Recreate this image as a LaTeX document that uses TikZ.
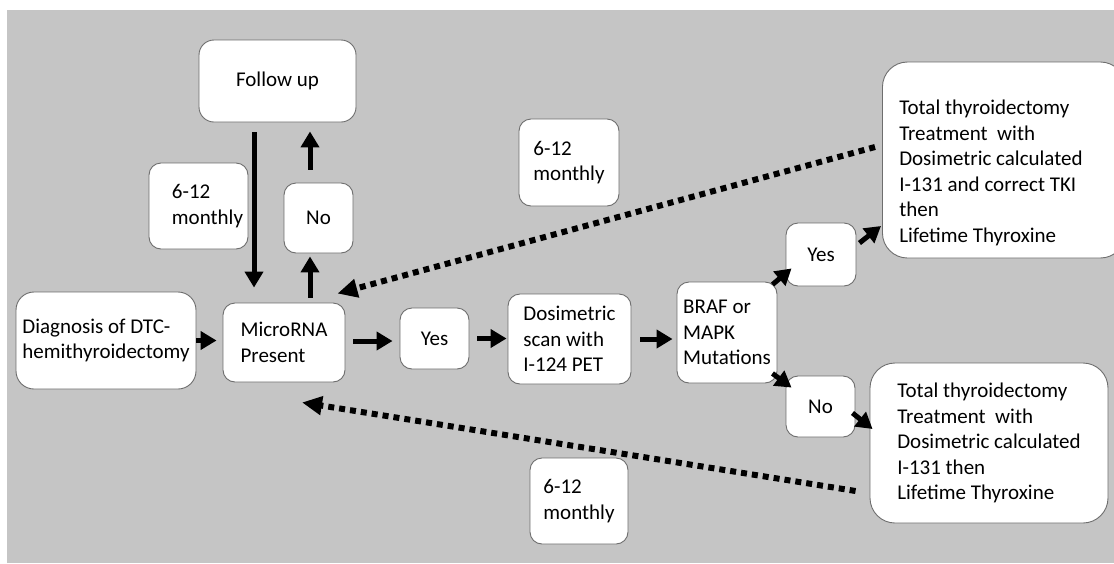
\documentclass[tikz,border=0pt]{standalone}
\usepackage{fontspec}
\setmainfont{Carlito}
\usetikzlibrary{arrows.meta,calc}
\definecolor{bggray}{HTML}{C5C5C5}
\definecolor{edgegray}{HTML}{6E6E6E}
\begin{document}
\begin{tikzpicture}[x=1pt,y=-1pt,
  box/.style={draw=edgegray, line width=0.9pt, fill=white, rounded corners=12pt,
    align=left, inner sep=0pt, font=\fontsize{21}{25.5}\selectfont},
  bigbox/.style={box, rounded corners=25pt},
  arr/.style={line width=5pt, -{Triangle[length=16pt,width=18pt]}},
  darr/.style={line width=6pt, dash pattern=on 6pt off 5pt, -{Triangle[length=20pt,width=18pt]}}]
\useasboundingbox (0,0) rectangle (1114,563);
\clip (0,0) rectangle (1114,563);
\fill[white] (0,0) rectangle (1114,563);
\fill[bggray] (7,10) rectangle (1114,563);

\node[box, minimum width=157pt, minimum height=82pt, rounded corners=15pt] (fu) at (277.5,81) {Follow up};
\node[box, minimum width=99pt, minimum height=86pt] (m1) at (198.5,206) {\hspace*{18pt}6-12\\\hspace*{18pt}monthly};
\node[box, minimum width=69pt, minimum height=70pt] (noT) at (318.5,218) {No};
\node[box, minimum width=180pt, minimum height=97pt, rounded corners=18pt] (dg) at (106,340.5) {Diagnosis of DTC-\\hemithyroidectomy};
\node[box, minimum width=122pt, minimum height=79pt] (mi) at (284,342.5) {MicroRNA\\Present};
\node[box, minimum width=69pt, minimum height=61pt] (y1) at (434.5,338.5) {Yes};
\node[box, minimum width=123pt, minimum height=90pt] (ds) at (569.5,339) {Dosimetric\\scan with\\I-124 PET};
\node[box, minimum width=100pt, minimum height=101pt] (br) at (727,332.5) {BRAF or\\MAPK\\Mutations};
\node[box, minimum width=100pt, minimum height=87pt] (m2) at (569,162.5) {6-12\\monthly};
\node[box, minimum width=70pt, minimum height=63pt] (y2) at (821,254.5) {Yes};
\node[bigbox, anchor=west, minimum width=243pt, minimum height=196pt] (tr) at (882,160)
  {\rule{0pt}{40pt}Total thyroidectomy\\Treatment\ \ with\\Dosimetric calculated\rule{26pt}{0pt}\\I-131 and correct TKI\\then\\Lifetime Thyroxine};
\node[box, minimum width=69pt, minimum height=61pt] (n2) at (820.5,406.5) {No};
\node[bigbox, minimum width=238pt, minimum height=160pt] (br2) at (989,443)
  {Total thyroidectomy\\Treatment\ \ with\\Dosimetric calculated\\I-131 then\\Lifetime Thyroxine};
\node[box, minimum width=98pt, minimum height=86pt] (m3) at (579,501) {6-12\\monthly};

% solid arrows
\draw[arr] ($(fu.south)+(-23.5,10)$) -- ($(mi.north)+(-30,-15)$);
\draw[arr] ($(mi.north)+(26,-5)$) -- ($(noT.south)+(-8.5,3)$);
\draw[arr] ($(noT.north)+(-8.5,-13)$) -- ($(fu.south)+(32.5,9)$);
\draw[arr] (dg.east) -- ($(dg.east -| mi.west)+(-6,0)$);
\draw[arr] ($(mi.east)+(8,-1.5)$) -- ($(y1.west)+(-7,2.5)$);
\draw[arr] ($(y1.east)+(8,0)$) -- ($(ds.west)+(-1,-0.5)$);
\draw[arr] ($(ds.east)+(9,0)$) -- ($(br.west)+(-4,6.5)$);
\draw[arr] ($(br.north east)+(-5,3)$) -- ($(y2.south west)+(6,-18)$);
\draw[arr] ($(y2.east)+(3,-11.5)$) -- ($(tr.west)+(-1,66)$);
\draw[arr] ($(br.south east)+(-5,-10)$) -- ($(n2.north west)+(6,12)$);
\draw[arr] ($(n2.east)+(-3,6.5)$) -- ($(br2.west)+(3,-14)$);

% dotted return arrows
\draw[darr] ($(tr.west)+(-7,-13)$) -- ($(mi.north east)+(-8,-9)$);
\draw[darr] ($(br2.west)+(-14,48)$) -- ($(mi.south)+(18,20)$);
\end{tikzpicture}
\end{document}
